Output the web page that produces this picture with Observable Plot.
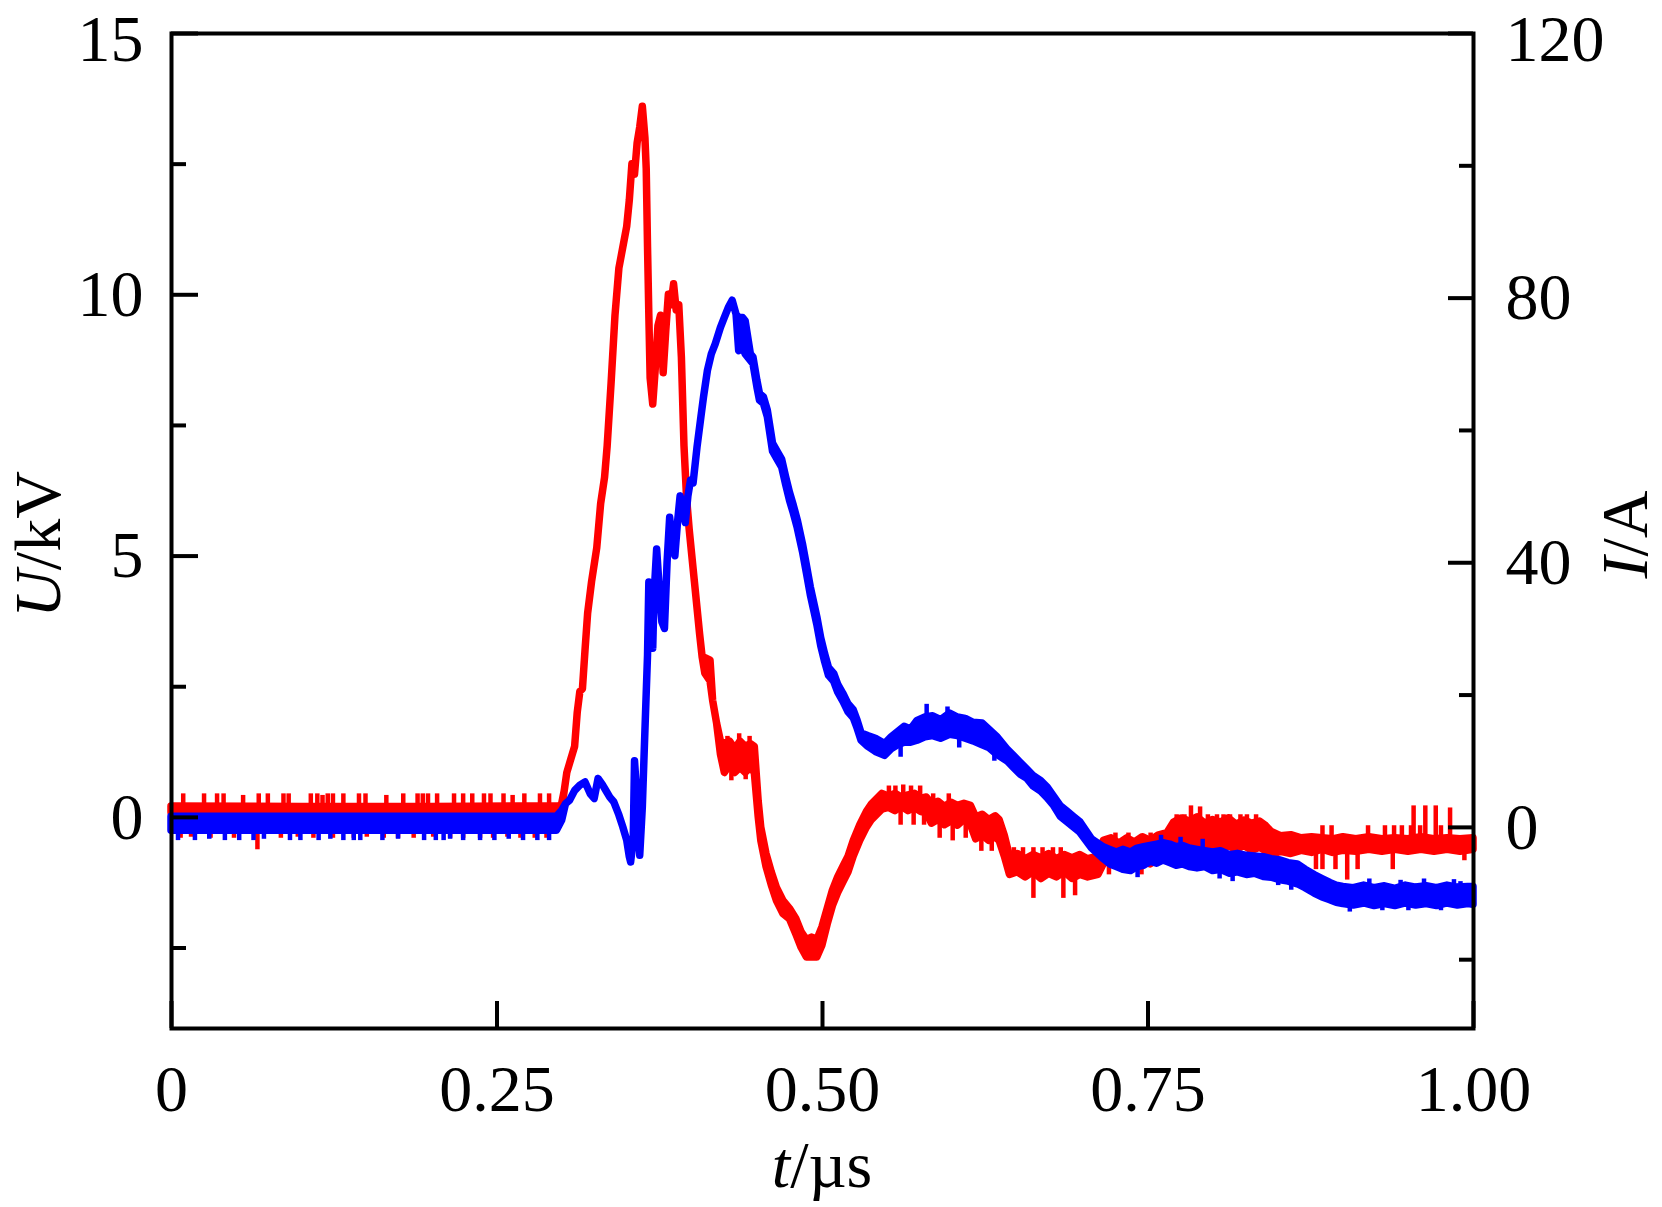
<!DOCTYPE html>
<html><head><meta charset="utf-8">
<script src="https://cdn.jsdelivr.net/npm/d3@7"></script>
<script src="https://cdn.jsdelivr.net/npm/@observablehq/plot@0.6"></script>
<style>html,body{margin:0;padding:0;background:#fff;} svg{display:block}</style>
</head><body><div id="chart"></div>
<script>
// Voltage U (kV) as [t (µs), lower edge, upper edge] of the noisy trace — red, left axis
const voltageBand = [
[0.000,0.09,0.21],[0.100,0.10,0.20],[0.200,0.09,0.20],[0.298,0.10,0.21],
[0.300,0.15,0.25],[0.302,0.50,0.50],[0.304,0.85,0.85],[0.307,1.10,1.10],[0.310,1.35,1.35],[0.312,2.00,2.00],
[0.314,2.40,2.40],[0.316,2.45,2.45],[0.318,3.20,3.20],[0.320,3.90,3.90],[0.323,4.50,4.50],[0.327,5.15,5.15],
[0.330,6.00,6.00],[0.333,6.50,6.50],[0.335,7.10,7.10],[0.338,8.30,8.30],[0.341,9.60,9.60],[0.344,10.5,10.5],
[0.347,10.9,10.9],[0.350,11.3,11.3],[0.352,11.8,11.8],[0.354,12.5,12.5],[0.356,12.3,12.3],[0.358,12.9,12.9],
[0.360,13.2,13.2],[0.362,13.6,13.6],[0.364,13.0,13.0],[0.365,12.4,12.4],[0.366,10.9,10.9],[0.367,9.6,9.6],
[0.368,8.4,8.4],[0.370,7.9,7.9],[0.372,8.6,8.6],[0.374,9.4,9.4],[0.376,9.6,9.6],[0.378,8.5,8.5],
[0.380,9.3,9.3],[0.382,10.0,10.0],[0.384,9.8,9.8],[0.386,10.2,10.2],[0.388,9.7,9.7],[0.390,9.8,9.8],
[0.392,8.8,8.8],[0.394,7.1,7.1],[0.396,6.1,6.1],[0.398,5.5,5.5],[0.402,4.5,4.5],[0.406,3.5,3.5],
[0.408,3.05,3.05],[0.410,2.75,3.05],[0.414,2.60,3.00],[0.416,2.23,2.23],[0.419,1.80,1.80],[0.422,1.20,1.45],
[0.425,0.85,1.40],[0.429,1.00,1.45],[0.433,0.85,1.30],[0.437,0.95,1.45],[0.441,0.85,1.35],[0.445,0.95,1.40],[0.448,0.85,1.35],
[0.451,0.00,0.30],[0.453,-0.45,-0.20],[0.457,-0.95,-0.70],[0.461,-1.30,-1.05],[0.465,-1.60,-1.35],[0.470,-1.85,-1.60],
[0.475,-1.95,-1.75],[0.480,-2.25,-1.95],[0.484,-2.50,-2.20],[0.488,-2.68,-2.35],[0.492,-2.68,-2.30],[0.496,-2.68,-2.35],
[0.500,-2.45,-2.10],[0.504,-2.05,-1.75],[0.508,-1.70,-1.40],[0.512,-1.45,-1.15],[0.516,-1.25,-0.95],[0.520,-1.05,-0.75],
[0.524,-0.75,-0.45],[0.529,-0.45,-0.15],[0.534,-0.20,0.10],[0.538,-0.05,0.25],[0.542,0.05,0.35],
[0.546,0.15,0.45],[0.551,0.18,0.40],[0.556,0.12,0.45],[0.561,0.20,0.38],[0.566,0.12,0.42],[0.571,0.18,0.45],[0.576,0.10,0.36],[0.580,0.08,0.38],
[0.584,-0.12,0.26],[0.589,-0.05,0.30],[0.594,-0.15,0.20],[0.599,-0.08,0.28],[0.604,-0.16,0.22],[0.609,-0.05,0.26],[0.614,-0.15,0.22],
[0.618,-0.42,0.00],[0.623,-0.35,0.05],[0.628,-0.45,-0.05],[0.633,-0.38,0.02],[0.636,-0.45,-0.05],
[0.640,-0.75,-0.35],[0.644,-1.10,-0.75],[0.650,-1.05,-0.70],[0.656,-1.15,-0.80],[0.662,-1.05,-0.72],[0.668,-1.18,-0.78],
[0.674,-1.08,-0.70],[0.680,-1.15,-0.80],[0.686,-1.05,-0.72],[0.692,-1.18,-0.78],[0.698,-1.10,-0.72],[0.704,-1.15,-0.80],[0.712,-1.10,-0.75],
[0.716,-0.90,-0.45],[0.722,-0.80,-0.40],[0.728,-0.95,-0.50],[0.734,-0.85,-0.40],[0.740,-0.92,-0.48],[0.746,-0.82,-0.38],
[0.752,-0.90,-0.45],[0.758,-0.80,-0.35],[0.765,-0.75,-0.30],
[0.770,-0.60,-0.10],[0.776,-0.50,-0.02],[0.782,-0.62,-0.08],[0.788,-0.52,0.00],[0.794,-0.60,-0.12],[0.800,-0.50,-0.05],
[0.806,-0.62,-0.10],[0.812,-0.55,-0.02],[0.818,-0.62,-0.14],[0.824,-0.55,-0.06],[0.830,-0.64,-0.12],[0.836,-0.58,-0.08],[0.840,-0.64,-0.15],
[0.845,-0.72,-0.28],[0.852,-0.66,-0.36],[0.860,-0.70,-0.34],[0.868,-0.64,-0.40],[0.876,-0.68,-0.38],[0.884,-0.62,-0.40],
[0.892,-0.68,-0.42],[0.900,-0.64,-0.38],[0.910,-0.66,-0.42],[0.920,-0.62,-0.38],[0.930,-0.66,-0.42],[0.940,-0.62,-0.40],
[0.950,-0.66,-0.42],[0.960,-0.62,-0.38],[0.970,-0.66,-0.42],[0.980,-0.62,-0.40],[0.990,-0.66,-0.42],[1.000,-0.62,-0.40]
];

// Voltage noise spikes: [t (µs), from U, to U]
const voltageSpikes = [
[0.009,0.15,0.45],[0.025,0.15,0.45],[0.035,0.15,0.45],[0.040,0.15,0.45],[0.055,0.15,0.42],[0.067,0.15,0.45],
[0.074,0.15,0.45],[0.086,0.15,0.45],[0.090,0.15,0.45],[0.107,0.15,0.45],[0.112,0.15,0.45],[0.116,0.15,0.42],
[0.120,0.15,0.45],[0.124,0.15,0.45],[0.132,0.15,0.45],[0.144,0.15,0.45],[0.149,0.15,0.45],[0.165,0.15,0.42],
[0.178,0.15,0.45],[0.189,0.15,0.45],[0.193,0.15,0.45],[0.197,0.15,0.45],[0.204,0.15,0.45],[0.217,0.15,0.45],
[0.224,0.15,0.45],[0.231,0.15,0.45],[0.240,0.15,0.45],[0.245,0.15,0.45],[0.255,0.15,0.45],[0.262,0.15,0.42],
[0.271,0.15,0.45],[0.283,0.15,0.45],[0.290,0.15,0.45],
[0.007,0.15,-0.40],[0.015,0.15,-0.38],[0.030,0.15,-0.40],[0.048,0.15,-0.40],[0.066,0.15,-0.62],[0.084,0.15,-0.40],
[0.097,0.15,-0.38],[0.109,0.15,-0.40],[0.124,0.15,-0.40],[0.140,0.15,-0.40],[0.150,0.15,-0.38],[0.163,0.15,-0.40],
[0.174,0.15,-0.40],[0.186,0.15,-0.40],[0.201,0.15,-0.38],[0.214,0.15,-0.40],[0.224,0.15,-0.40],[0.237,0.15,-0.40],
[0.247,0.15,-0.40],[0.258,0.15,-0.38],[0.268,0.15,-0.40],[0.279,0.15,-0.40],[0.288,0.15,-0.40],
[0.427,1.10,1.55],[0.436,1.10,1.60],[0.444,1.10,1.55],[0.430,1.10,0.70],[0.441,1.10,0.72],
[0.551,0.30,0.60],[0.556,0.30,0.60],[0.562,0.30,0.62],[0.568,0.30,0.60],[0.575,0.30,0.60],
[0.560,0.30,-0.15],[0.570,0.30,-0.15],[0.578,0.30,-0.15],
[0.585,0.10,0.45],[0.597,0.10,0.45],[0.590,0.10,-0.40],[0.600,0.10,-0.45],[0.610,0.10,-0.40],
[0.622,-0.20,-0.65],[0.630,-0.20,-0.65],
[0.647,-0.95,-0.58],[0.654,-0.95,-0.58],[0.662,-0.95,-0.58],[0.669,-0.95,-0.58],[0.677,-0.95,-0.58],[0.683,-0.95,-0.58],
[0.662,-0.95,-1.55],[0.685,-0.95,-1.55],[0.694,-0.95,-1.50],
[0.725,-0.65,-0.30],[0.735,-0.65,-0.30],[0.752,-0.65,-0.30],[0.720,-0.65,-1.10],[0.745,-0.65,-1.10],
[0.772,-0.30,0.05],[0.778,-0.30,0.05],[0.783,-0.30,0.22],[0.790,-0.30,0.20],[0.796,-0.30,0.05],[0.803,-0.30,0.05],
[0.808,-0.30,0.05],[0.813,-0.30,0.05],[0.821,-0.30,0.05],[0.826,-0.30,0.05],[0.833,-0.30,0.05],
[0.800,-0.30,-0.80],[0.815,-0.30,-0.80],[0.830,-0.30,-0.80],
[0.834,-0.50,-0.16],[0.839,-0.50,-0.16],[0.884,-0.50,-0.16],[0.891,-0.50,-0.16],[0.919,-0.50,-0.16],[0.932,-0.50,-0.16],
[0.939,-0.50,-0.16],[0.945,-0.50,-0.16],[0.952,-0.50,-0.16],[0.959,-0.50,-0.16],[0.975,-0.50,-0.16],
[0.954,-0.50,0.22],[0.963,-0.50,0.22],[0.971,-0.50,0.22],[0.982,-0.50,0.18],
[0.879,-0.50,-1.00],[0.884,-0.50,-1.00],[0.894,-0.50,-1.00],[0.911,-0.50,-1.00],[0.938,-0.50,-1.00],[0.903,-0.50,-1.20],
[0.993,-0.50,-0.83]
];

// Current I (A) as [t (µs), lower edge, upper edge] — blue, right axis
const currentBand = [
[0.000,-0.5,1.6],[0.100,-0.5,1.6],[0.200,-0.5,1.6],[0.296,-0.5,1.6],
[0.300,1.0,2.5],[0.303,3.5,3.5],[0.306,4.0,4.0],[0.310,5.5,5.5],[0.314,6.3,6.3],[0.318,6.8,6.8],
[0.322,5.0,5.0],[0.325,4.3,4.3],[0.328,7.3,7.3],[0.331,6.5,6.5],[0.334,5.5,5.5],[0.337,4.5,4.5],
[0.340,3.8,3.8],[0.344,1.8,1.8],[0.347,0.0,0.0],[0.350,-2.0,-2.0],[0.352,-4.5,-4.5],[0.353,-5.3,-5.3],
[0.355,-2.0,-2.0],[0.356,10.0,10.0],[0.358,4.0,4.0],[0.360,-4.3,-4.3],[0.362,3.0,3.0],[0.364,14.6,14.6],
[0.366,26,26],[0.367,37,37],[0.369,31,31],[0.370,27,27],[0.371,35,35],[0.373,42,42],
[0.375,36,36],[0.377,31,31],[0.379,30,30],[0.381,40,40],[0.383,46.8,46.8],[0.385,43,43],
[0.387,41,41],[0.389,46,46],[0.391,50,50],[0.393,48,48],[0.395,46,46],[0.397,50,50],
[0.399,52.4,52.4],[0.401,52,52],[0.404,57.4,57.4],[0.407,62,62],[0.409,65,65],[0.412,69,69],
[0.415,71.5,71.5],[0.418,73,73],[0.422,75.5,75.5],[0.425,77,77],[0.428,78.5,78.5],[0.431,79.6,79.6],
[0.434,77.5,77.5],[0.436,72,77],[0.439,72.5,77],[0.441,71.5,76.5],[0.445,70.5,71.5],[0.447,70,71],
[0.450,66.5,67.5],[0.452,64.5,65.5],[0.455,64,65],[0.458,62,63],[0.462,56.8,58],[0.466,55.4,56.6],
[0.469,54.4,55.6],[0.472,51.8,53],[0.475,49.4,50.6],[0.478,47.4,48.6],[0.481,45.2,46.4],[0.485,41.6,42.8],
[0.488,38.4,39.6],[0.491,35.1,36.3],[0.494,32.4,33.6],[0.496,30.6,31.8],[0.499,27.4,28.6],[0.502,25,26.2],
[0.505,22.9,24.1],[0.509,22,23.2],[0.512,20.4,21.6],[0.516,19,20.2],[0.520,17.4,18.6],[0.524,16.5,17.7],
[0.527,14.9,16.1],[0.530,13.1,14.2],
[0.535,12.2,13.8],[0.541,11.4,13.4],[0.548,10.8,12.6],[0.553,11.8,13.6],[0.558,12.4,14.4],[0.563,12.8,15.2],
[0.568,12.8,14.8],[0.573,13.1,16.1],[0.579,13.6,16.6],[0.585,13.8,16.8],[0.591,13.4,16.2],[0.598,14.0,17.2],
[0.604,13.8,16.6],[0.610,13.4,16.4],[0.616,13.0,15.8],[0.623,12.4,15.7],[0.628,12.0,14.8],[0.634,11.0,13.7],
[0.642,10.0,11.8],[0.647,9.0,10.8],[0.652,8.0,9.8],[0.657,7.4,8.8],[0.662,6.2,7.8],[0.668,5.4,7.0],
[0.673,4.4,6.0],[0.678,3.2,4.6],[0.683,1.6,3.2],[0.688,0.8,2.4],[0.693,0.0,1.6],[0.698,-0.8,0.8],
[0.707,-3.2,-1.8],[0.716,-4.8,-3.0],[0.721,-5.6,-3.4],[0.726,-6.0,-3.8],[0.731,-6.4,-3.4],[0.737,-6.6,-3.8],
[0.742,-6.0,-3.2],[0.747,-5.8,-3.0],[0.752,-5.2,-2.8],[0.757,-5.5,-2.6],[0.762,-5.0,-2.4],[0.767,-5.4,-2.6],
[0.772,-5.8,-3.0],[0.777,-5.6,-2.8],[0.782,-6.0,-3.2],[0.788,-6.2,-3.4],[0.794,-6.0,-3.6],[0.800,-6.6,-3.8],
[0.806,-6.4,-3.6],[0.813,-7.0,-4.2],[0.819,-6.8,-4.0],[0.826,-7.2,-4.3],[0.832,-7.0,-4.4],[0.839,-7.5,-4.5],
[0.845,-7.6,-4.8],[0.852,-8.0,-5.0],[0.858,-8.2,-5.4],[0.865,-8.6,-5.6],[0.871,-9.2,-6.4],[0.878,-10.0,-7.2],
[0.884,-10.6,-7.8],[0.890,-11.0,-8.4],[0.895,-11.4,-8.8],[0.900,-11.6,-9.0],[0.908,-11.8,-9.2],[0.916,-11.5,-8.8],
[0.924,-11.9,-9.2],[0.932,-11.6,-8.9],[0.940,-11.9,-9.3],[0.948,-11.5,-8.8],[0.956,-11.8,-9.1],[0.964,-11.6,-8.9],
[0.972,-11.9,-9.2],[0.980,-11.5,-8.8],[0.988,-11.8,-9.1],[0.996,-11.6,-9.0],[1.000,-11.7,-9.0]
];

// Current noise spikes: [t (µs), from I, to I]
const currentSpikes = [
[0.005,0.5,-2.0],[0.018,0.5,-2.0],[0.029,0.5,-1.8],[0.041,0.5,-2.0],[0.052,0.5,-2.0],[0.063,0.5,-2.0],
[0.071,0.5,-1.8],[0.091,0.5,-2.0],[0.099,0.5,-2.0],[0.113,0.5,-2.0],[0.122,0.5,-1.8],[0.132,0.5,-2.0],
[0.140,0.5,-2.0],[0.145,0.5,-2.0],[0.162,0.5,-2.0],[0.174,0.5,-1.8],[0.194,0.5,-2.0],[0.203,0.5,-2.0],
[0.209,0.5,-2.0],[0.214,0.5,-1.8],[0.224,0.5,-2.0],[0.237,0.5,-2.0],[0.248,0.5,-2.0],[0.259,0.5,-1.8],
[0.270,0.5,-2.0],[0.281,0.5,-2.0],[0.290,0.5,-2.0],
[0.580,15.0,18.6],[0.596,15.0,18.2],[0.605,15.0,12.0],[0.560,13.0,10.6],[0.632,12.0,10.0],
[0.742,-4.5,-7.6],[0.760,-3.5,-1.2],[0.775,-4.0,-1.5],[0.792,-4.5,-1.8],[0.805,-5.0,-7.8],[0.815,-5.0,-8.2],
[0.850,-6.0,-8.8],[0.860,-6.5,-9.5],[0.905,-10.0,-12.8],[0.920,-10.0,-7.8],[0.930,-10.4,-12.6],
[0.944,-10.4,-8.0],[0.950,-10.0,-12.6],[0.962,-10.4,-7.8],[0.975,-10.4,-12.6],[0.985,-10.0,-7.9],[0.990,-10.4,-8.2]
];

const timeTicks = [0, 0.25, 0.5, 0.75, 1];
const timeTickLabels = ["0", "0.25", "0.50", "0.75", "1.00"];
const voltageTicks = [0, 5, 10, 15];
const voltageMinorTicks = [-2.5, 2.5, 7.5, 12.5];
const currentTicks = [0, 40, 80, 120];
const currentMinorTicks = [-20, 20, 60, 100];
const timeDomain = [0, 1];
const voltageDomain = [-4.04, 15];
const currentDomain = [-30.4, 120];

const W = 1662, H = 1207;
const mL = 171, mR = 189, mT = 33, mB = 179;
const innerW = W - mL - mR, innerH = H - mT - mB;
const RED = "#ff0000", BLUE = "#0000ff";
const LW = 7.5;

// map current onto the primary (voltage) y scale for the secondary right axis
const currentToVoltage = d3.scaleLinear(currentDomain, voltageDomain);
const vTop = voltageDomain[1], iTop = currentTicks[currentTicks.length - 1];

const plot = Plot.plot({
  width: W, height: H,
  marginLeft: mL, marginRight: mR, marginTop: mT, marginBottom: mB,
  style: {fontFamily: "'Liberation Serif', 'Times New Roman', serif", fontSize: "66px", background: "#fff", color: "#000"},
  x: {domain: timeDomain, axis: null},
  y: {domain: voltageDomain, axis: null},
  marks: [
    Plot.areaY(voltageBand, {x: d => d[0], y1: d => d[1], y2: d => d[2], fill: RED, stroke: RED, strokeWidth: LW, strokeLinejoin: "round"}),
    Plot.ruleX(voltageSpikes, {x: d => d[0], y1: d => d[1], y2: d => d[2], stroke: RED, strokeWidth: 4.5}),
    Plot.areaY(currentBand, {x: d => d[0], y1: d => currentToVoltage(d[1]), y2: d => currentToVoltage(d[2]), fill: BLUE, stroke: BLUE, strokeWidth: LW, strokeLinejoin: "round"}),
    Plot.ruleX(currentSpikes, {x: d => d[0], y1: d => currentToVoltage(d[1]), y2: d => currentToVoltage(d[2]), stroke: BLUE, strokeWidth: 4.5}),
    Plot.frame({stroke: "#000", strokeWidth: 4}),
    Plot.tickX(timeTicks, {x: d => d, stroke: "#000", strokeWidth: 4, insetTop: innerH - 27}),
    Plot.tickY(voltageTicks, {y: d => d, stroke: "#000", strokeWidth: 4, insetRight: innerW - 27}),
    Plot.tickY(voltageMinorTicks, {y: d => d, stroke: "#000", strokeWidth: 4, insetRight: innerW - 15}),
    Plot.tickY(currentTicks, {y: d => currentToVoltage(d), stroke: "#000", strokeWidth: 4, insetLeft: innerW - 25}),
    Plot.tickY(currentMinorTicks, {y: d => currentToVoltage(d), stroke: "#000", strokeWidth: 4, insetLeft: innerW - 14}),
    Plot.axisX(timeTicks, {anchor: "bottom", tickSize: 0, tickPadding: 36, label: null,
      tickFormat: d => timeTickLabels[timeTicks.indexOf(d)]}),
    Plot.axisY(voltageTicks.filter(v => v !== vTop), {anchor: "left", tickSize: 0, tickPadding: 28, label: null, tickFormat: d => String(d)}),
    Plot.axisY([vTop], {anchor: "left", tickSize: 0, tickPadding: 28, label: null, dy: 6, tickFormat: d => String(d)}),
    Plot.axisY(currentTicks.filter(v => v !== iTop).map(v => currentToVoltage(v)), {anchor: "right", tickSize: 0, tickPadding: 32, label: null,
      tickFormat: d => String(Math.round(currentToVoltage.invert(d)))}),
    Plot.axisY([currentToVoltage(iTop)], {anchor: "right", tickSize: 0, tickPadding: 32, label: null, dy: 6,
      tickFormat: d => String(Math.round(currentToVoltage.invert(d)))})
  ]
});

document.getElementById("chart").appendChild(plot);

const svg = d3.select(plot);
const xt = svg.append("text").attr("x", mL + innerW / 2).attr("y", 1187).attr("text-anchor", "middle").attr("fill", "#000");
xt.append("tspan").attr("font-style", "italic").text("t");
xt.append("tspan").text("/µs");

const yt = svg.append("text").attr("transform", `translate(60,${mT + innerH / 2 + 14}) rotate(-90)`).attr("text-anchor", "middle").attr("fill", "#000");
yt.append("tspan").attr("font-style", "italic").text("U");
yt.append("tspan").text("/kV");

const rt = svg.append("text").attr("transform", `translate(1647,${mT + innerH / 2 + 4}) rotate(-90)`).attr("text-anchor", "middle").attr("fill", "#000");
rt.append("tspan").attr("font-style", "italic").text("I");
rt.append("tspan").text("/A");
</script>
</body></html>
